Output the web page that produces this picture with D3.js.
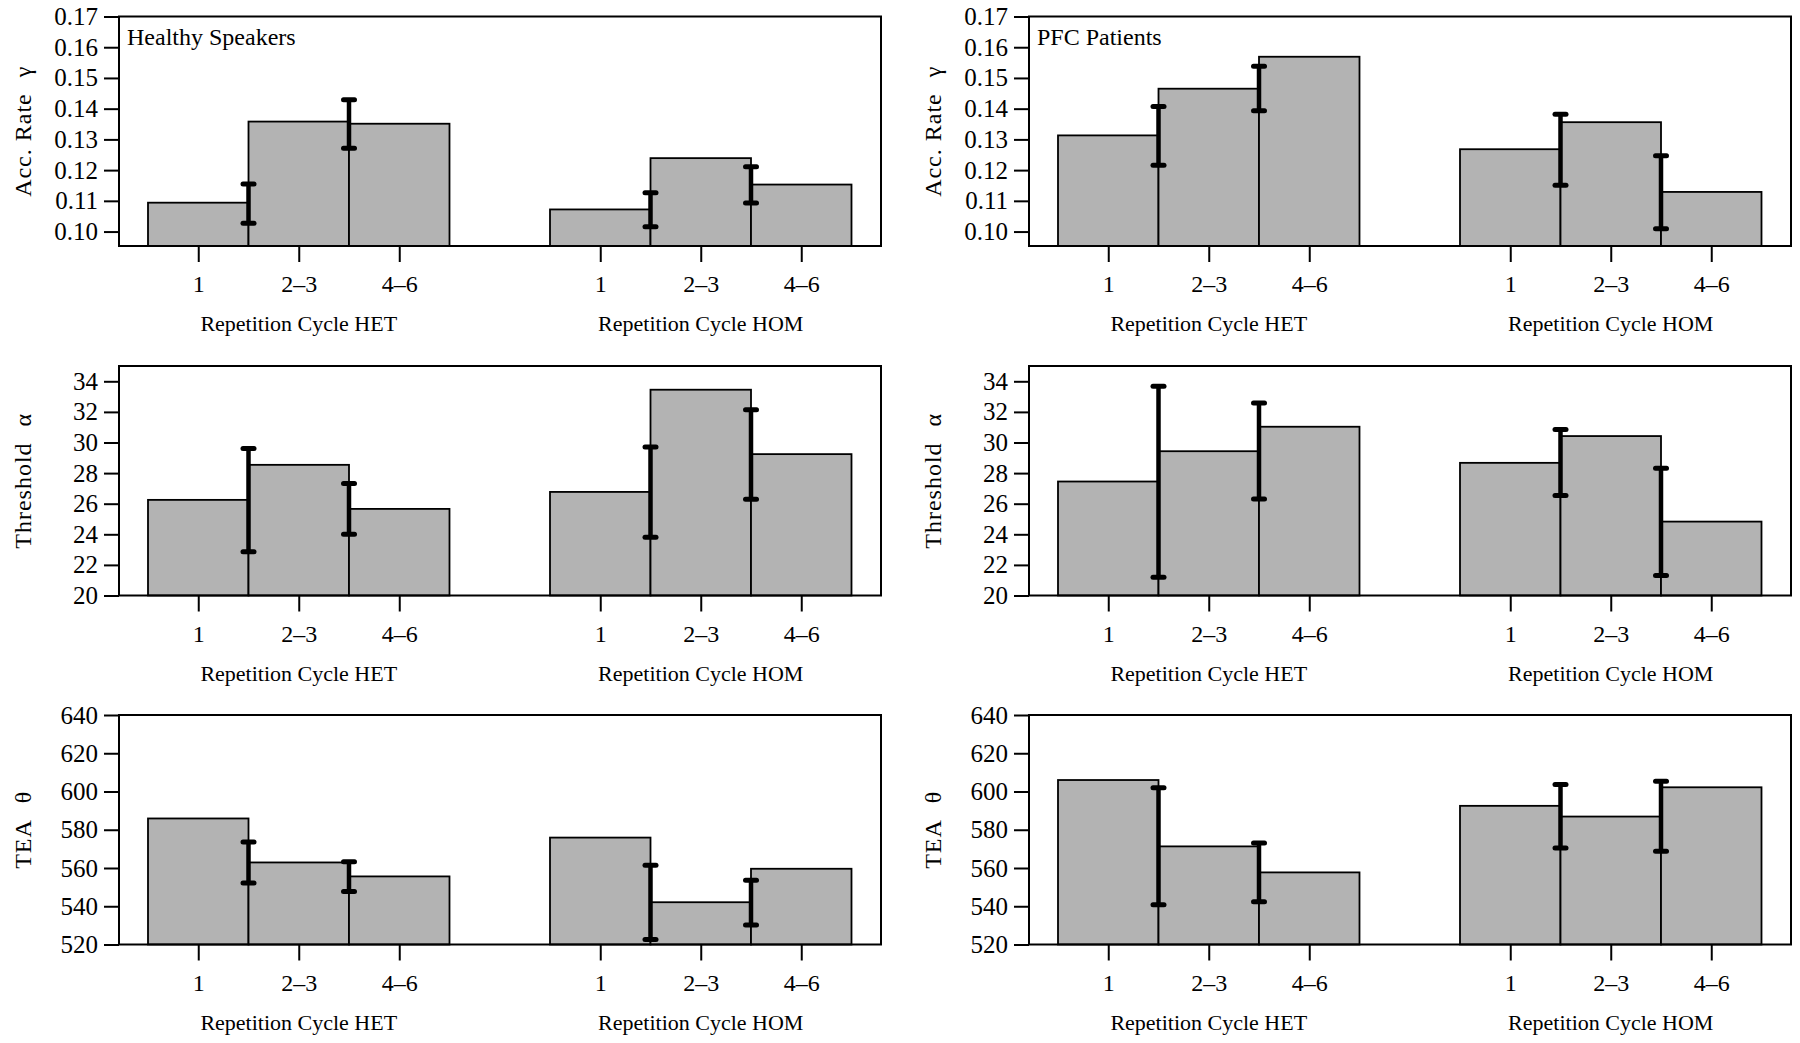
<!DOCTYPE html>
<html>
<head>
<meta charset="utf-8">
<script src="https://cdn.jsdelivr.net/npm/d3@7"></script>
<style>
  body { margin: 0; background: #fff; }
  svg { display: block; font-family: "Liberation Serif", "Times New Roman", serif; }
</style>
</head>
<body>
<script>
// categories
const cycles = ["1", "2\u20133", "4\u20136"];
const conditions = ["HET", "HOM"];
const groups = ["Healthy Speakers", "PFC Patients"];
const measures = ["Acc. Rate", "Threshold", "TEA"];
const symbols = ["\u03b3", "\u03b1", "\u03b8"];

// tick labels
const accTicks = [0.10, 0.11, 0.12, 0.13, 0.14, 0.15, 0.16, 0.17];
const thrTicks = [20, 22, 24, 26, 28, 30, 32, 34];
const teaTicks = [520, 540, 560, 580, 600, 620, 640];

// acceleration rate
const accHealthyHET = [0.1094, 0.1358, 0.1351];
const accHealthyHOM = [0.1072, 0.1239, 0.1153];
const accPfcHET = [0.1313, 0.1465, 0.1569];
const accPfcHOM = [0.1268, 0.1356, 0.1129];
// error bars between cycles (low, high)
const accHealthyHETErr = [[0.1027, 0.1155], [0.1271, 0.1429]];
const accHealthyHOMErr = [[0.1016, 0.1126], [0.1093, 0.1211]];
const accPfcHETErr = [[0.1216, 0.1407], [0.1393, 0.1538]];
const accPfcHOMErr = [[0.1151, 0.1382], [0.1009, 0.1247]];

// threshold
const thrHealthyHET = [26.25, 28.54, 25.66];
const thrHealthyHOM = [26.77, 33.45, 29.24];
const thrPfcHET = [27.45, 29.43, 31.03];
const thrPfcHOM = [28.67, 30.42, 24.83];
const thrHealthyHETErr = [[22.86, 29.61], [24.0, 27.32]];
const thrHealthyHOMErr = [[23.8, 29.7], [26.29, 32.14]];
const thrPfcHETErr = [[21.2, 33.67], [26.31, 32.58]];
const thrPfcHOMErr = [[26.53, 30.85], [21.31, 28.32]];

// TEA
const teaHealthyHET = [585.9, 562.9, 555.6];
const teaHealthyHOM = [575.9, 542.1, 559.6];
const teaPfcHET = [606.0, 571.3, 557.7];
const teaPfcHOM = [592.5, 586.9, 602.2];
const teaHealthyHETErr = [[552.2, 573.6], [547.7, 563.3]];
const teaHealthyHOMErr = [[522.6, 561.5], [530.2, 553.6]];
const teaPfcHETErr = [[540.8, 602.0], [542.4, 573.1]];
const teaPfcHOMErr = [[570.5, 603.7], [568.7, 605.3]];

// panel table built from the arrays above
const rows = [
  { ticks: accTicks, domain: [0.0953, 0.17], fmt: d3.format(".2f"),
    vals: [[accHealthyHET, accHealthyHOM], [accPfcHET, accPfcHOM]],
    errs: [[accHealthyHETErr, accHealthyHOMErr], [accPfcHETErr, accPfcHOMErr]] },
  { ticks: thrTicks, domain: [20, 35], fmt: d3.format("d"),
    vals: [[thrHealthyHET, thrHealthyHOM], [thrPfcHET, thrPfcHOM]],
    errs: [[thrHealthyHETErr, thrHealthyHOMErr], [thrPfcHETErr, thrPfcHOMErr]] },
  { ticks: teaTicks, domain: [520, 640], fmt: d3.format("d"),
    vals: [[teaHealthyHET, teaHealthyHOM], [teaPfcHET, teaPfcHOM]],
    errs: [[teaHealthyHETErr, teaHealthyHOMErr], [teaPfcHETErr, teaPfcHOMErr]] }
];

const W = 1800, H = 1043;
const colX = [119, 1029];
const boxW = 762;
const rowTop = [16.5, 366, 715];
const boxH = 229.5;
const pad = 29;
const slotW = 100.5;

const svg = d3.select("body").append("svg")
  .attr("width", W).attr("height", H);

rows.forEach((row, r) => {
  groups.forEach((grp, c) => {
    const x0 = colX[c], y0 = rowTop[r];
    const g = svg.append("g");

    const x = d3.scaleLinear().domain([0, 7]).range([x0 + pad, x0 + pad + 7 * slotW]);
    const y = d3.scaleLinear().domain(row.domain).range([y0 + boxH, y0]);

    // bars
    conditions.forEach((cond, k) => {
      const vals = row.vals[c][k];
      g.selectAll(null).data(vals).enter().append("rect")
        .attr("x", (d, i) => x(k * 4 + i))
        .attr("y", d => y(d))
        .attr("width", x(1) - x(0))
        .attr("height", d => y(row.domain[0]) - y(d))
        .attr("fill", "#b3b3b3")
        .attr("stroke", "#000")
        .attr("stroke-width", 1.8);
    });

    // error bars at the boundaries between cycles
    conditions.forEach((cond, k) => {
      const errs = row.errs[c][k];
      const eg = g.selectAll(null).data(errs).enter().append("g");
      eg.append("line")
        .attr("x1", (d, i) => x(k * 4 + i + 1)).attr("x2", (d, i) => x(k * 4 + i + 1))
        .attr("y1", d => y(d[0])).attr("y2", d => y(d[1]))
        .attr("stroke", "#000").attr("stroke-width", 4.5);
      [0, 1].forEach(j => {
        eg.append("line")
          .attr("x1", (d, i) => x(k * 4 + i + 1) - 5.5).attr("x2", (d, i) => x(k * 4 + i + 1) + 5.5)
          .attr("y1", d => y(d[j])).attr("y2", d => y(d[j]))
          .attr("stroke", "#000").attr("stroke-width", 5)
          .attr("stroke-linecap", "round");
      });
    });

    // box
    g.append("rect")
      .attr("x", x0).attr("y", y0).attr("width", boxW).attr("height", boxH)
      .attr("fill", "none").attr("stroke", "#000").attr("stroke-width", 2);

    // y axis
    const ya = g.append("g").attr("transform", `translate(${x0},0)`)
      .call(d3.axisLeft(y).tickValues(row.ticks).tickFormat(row.fmt).tickSize(15).tickPadding(6));
    ya.select(".domain").remove();
    ya.selectAll("line").attr("stroke-width", 2);
    ya.selectAll("text").attr("font-size", 25).attr("font-family", "Liberation Serif").attr("fill", "#000");

    // x axis
    const xa = g.append("g").attr("transform", `translate(0,${y0 + boxH})`)
      .call(d3.axisBottom(x).tickValues([0.5, 1.5, 2.5, 4.5, 5.5, 6.5])
        .tickFormat((d, i) => cycles[i % 3]).tickSize(16).tickPadding(13));
    xa.select(".domain").remove();
    xa.selectAll("line").attr("stroke-width", 2);
    xa.selectAll("text").attr("font-size", 24).attr("font-family", "Liberation Serif").attr("fill", "#000");

    // condition labels
    conditions.forEach((cond, k) => {
      g.append("text")
        .attr("x", x(k * 4 + 1.5)).attr("y", y0 + boxH + 85)
        .attr("text-anchor", "middle").attr("font-size", 22)
        .text("Repetition Cycle " + cond);
    });

    // y title
    const yt = g.append("text")
      .attr("transform", `translate(${x0 - 88},${y0 + boxH / 2}) rotate(-90)`)
      .attr("text-anchor", "middle").attr("font-size", 24)
      .attr("letter-spacing", 1);
    yt.append("tspan").text(measures[r]);
    yt.append("tspan").attr("dx", 16).text(symbols[r]);

    // group title in top row
    if (r === 0) {
      g.append("text")
        .attr("x", x0 + 8).attr("y", y0 + 28.5)
        .attr("font-size", 24).text(grp);
    }
  });
});
</script>
</body>
</html>
